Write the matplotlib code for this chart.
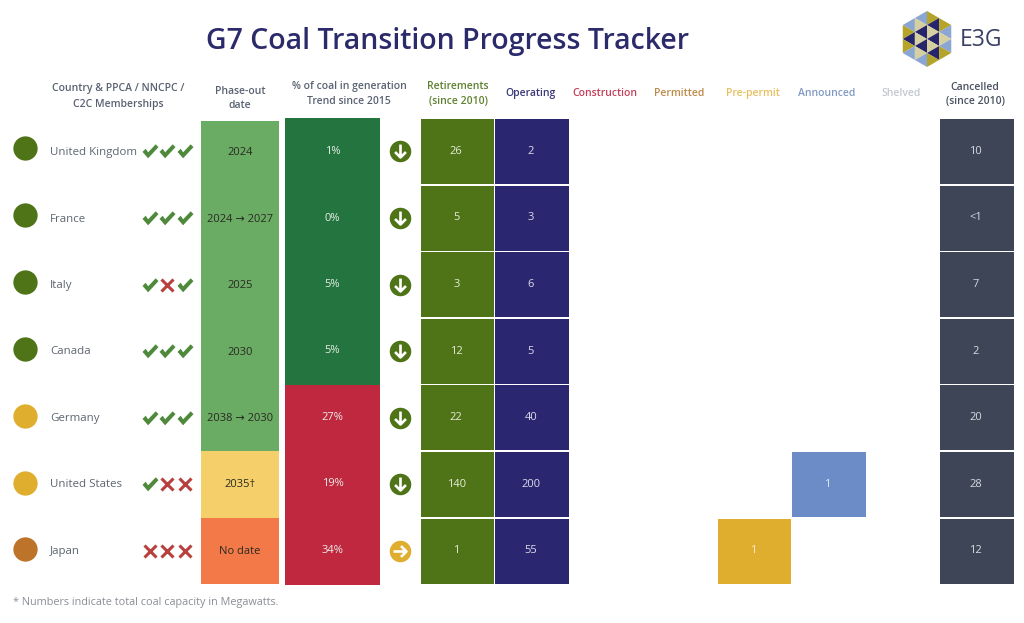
import numpy as np
import matplotlib
matplotlib.use('Agg')
import matplotlib.pyplot as plt
from matplotlib.patches import Rectangle, Polygon
from matplotlib.path import Path

plt.rcParams['font.family'] = ['Open Sans', 'DejaVu Sans']

countries = ['United Kingdom', 'France', 'Italy', 'Canada', 'Germany', 'United States', 'Japan']
status = ['g', 'g', 'g', 'g', 'y', 'y', 'o']
members = ['YYY', 'YYY', 'YNY', 'YYY', 'YYY', 'YNN', 'NNN']
phaseout = ['2024', '2024 \u2192 2027', '2025', '2030', '2038 \u2192 2030', '2035\u2020', 'No date']
phase_level = ['g', 'g', 'g', 'g', 'g', 'y', 'o']
coal_share = ['1%', '0%', '5%', '5%', '27%', '19%', '34%']
coal_level = ['g', 'g', 'g', 'g', 'r', 'r', 'r']
trend = ['down', 'down', 'down', 'down', 'down', 'down', 'right']
retirements = ['26', '5', '3', '12', '22', '140', '1']
operating = ['2', '3', '6', '5', '40', '200', '55']
prepermit = ['', '', '', '', '', '', '1']
announced = ['', '', '', '', '', '1', '']
cancelled = ['10', '<1', '7', '2', '20', '28', '12']

TOP = 119.0
ROW = 66.6
GREEN = '#4f7417'
NAVY = '#2a2670'
SLATE = '#3d4557'
GOLD = '#e0ae2e'
BLUE = '#6c8cc7'
GREY = '#5f6670'

fig = plt.figure(figsize=(10.24, 6.23), dpi=100)
ax = fig.add_axes([0, 0, 1, 1])
ax.set_xlim(0, 1024)
ax.set_ylim(623, 0)
ax.axis('off')

def row_y(i):
    return TOP + ROW * (i + 0.5)

def cell(x0, x1, i, color, txt='', tc='white', gap=1.6):
    ax.add_patch(Rectangle((x0, TOP + ROW * i), x1 - x0, ROW - gap, fc=color, ec='none'))
    if txt:
        ax.text((x0 + x1) / 2 - 1.2, row_y(i) - 1, txt, color=tc, fontsize=8, ha='center', va='center')

# title and footnote
ax.text(447, 41.5, 'G7 Coal Transition Progress Tracker', color='#2b2a6b', fontsize=20.5,
        fontweight='semibold', ha='center', va='center')
ax.text(13, 602, '* Numbers indicate total coal capacity in Megawatts.', color='#8a8f96',
        fontsize=7.85, ha='left', va='center')

# headers
headers = [(118, 'Country & PPCA / NNCPC /\nC2C Memberships', '#5a6272', 93),
           (240, 'Phase-out\ndate', '#5a6272', 95),
           (349, '% of coal in generation\nTrend since 2015', '#5a6272', 90.5),
           (458, 'Retirements\n(since 2010)', '#5f8030', 90.5),
           (531, 'Operating', '#3a3778', 92),
           (605, 'Construction', '#c4405a', 92),
           (679, 'Permitted', '#bd8a48', 92),
           (753, 'Pre-permit', '#e6c05e', 92),
           (827, 'Announced', '#8099c4', 92),
           (901, 'Shelved', '#c3c8d0', 92),
           (975, 'Cancelled\n(since 2010)', '#4a5160', 91)]
for hx, label, col, hy in headers:
    ax.text(hx, hy, label, color=col, fontsize=7.5, fontweight='semibold', ha='center',
            va='center_baseline', linespacing=1.5)

# custom markers, y points up in marker space
check = Path([(-1, -0.05), (-0.6, 0.35), (-0.3, -0.1), (0.65, 0.9), (1, 0.55), (-0.3, -0.85), (-1, -0.05)], closed=True)
down = Path([(0, 0.7), (0, -0.6), (-0.55, -0.05), (0, -0.6), (0.55, -0.05)],
            [Path.MOVETO, Path.LINETO, Path.MOVETO, Path.LINETO, Path.LINETO])
right = Path([(-0.7, 0), (0.6, 0), (0.05, 0.55), (0.6, 0), (0.05, -0.55)],
             [Path.MOVETO, Path.LINETO, Path.MOVETO, Path.LINETO, Path.LINETO])
status_col = {'g': GREEN, 'y': GOLD, 'o': '#bd732a'}
phase_col = {'g': '#6aac64', 'y': '#f5cf6a', 'o': '#f37a48'}
coal_col = {'g': '#23743f', 'r': '#c0283f'}

for i, name in enumerate(countries):
    y = row_y(i)
    ax.plot(25, y - 4.2 + 0.3 * i, 'o', ms=17.5, color=status_col[status[i]], mec='none')
    ax.text(50, y + 0.5 - 0.2 * i, name, color=GREY, fontsize=8.25, ha='left', va='center')
    for k, flag in enumerate(members[i]):
        mx = 149.5 + 17.5 * k
        if flag == 'Y':
            ax.plot(mx, y - 1, marker=check, ms=11.5, color='#4f8a3c', mec='none')
        else:
            ax.plot(mx, y - 1, marker='x', ms=9, mew=2.2, color='#b8413f')

    py0 = max(121, TOP + ROW * i - 0.8)
    ax.add_patch(Rectangle((201, py0), 78, TOP + ROW * (i + 1) - 0.8 - py0, fc=phase_col[phase_level[i]], ec='none'))
    ax.text(240, y + 0.6 - 0.2 * i, phaseout[i], color='#2a2a22', fontsize=8, ha='center', va='center')
    cy0 = TOP - 1 + ROW * i if i == 0 else TOP + ROW * i
    ax.add_patch(Rectangle((285, cy0), 95, TOP + ROW * (i + 1) - cy0, fc=coal_col[coal_level[i]], ec='none'))
    ax.text(332.5, y - 0.5 - 0.2 * i, coal_share[i], color='#e8eee8', fontsize=8, ha='center', va='center')

    tcol = GREEN if trend[i] == 'down' else GOLD
    ax.plot(400, y - 1, 'o', ms=15.5, color=tcol, mec='none')
    ax.plot(400, y - 1, marker=down if trend[i] == 'down' else right, ms=10, mfc='none', mec='white',
            mew=1.9, ls='none')

    cell(421, 494, i, GREEN, retirements[i], '#e6ebd8')
    cell(495, 569, i, NAVY, operating[i], '#dcdcea')
    if prepermit[i]:
        cell(717.5, 791, i, GOLD, prepermit[i], '#f8eccc')
    if announced[i]:
        cell(791.5, 865.5, i, BLUE, announced[i], '#e4eaf5')
    cell(940, 1014, i, SLATE, cancelled[i], '#d8dbe0')

# logo: pointy-top hexagon cut in 4 columns of sideways triangles
tri_colors = {'b': '#8aa6d2', 'y': '#b5a42a', 'n': '#26246b', 'c': '#d6cf9f'}
logo_cols = ['bynyb', 'bcncncb', 'yncncny', 'ybcby']
first_left = [True, True, False, False]
lx, ly, side = 927, 39, 14.0
w = side * np.sqrt(3) / 2
for c, cols in enumerate(logo_cols):
    x0 = lx + (c - 2) * w
    x1 = x0 + w
    n = len(cols)
    for k, col in enumerate(cols):
        cy = ly + (k - (n - 1) / 2) * side / 2
        points_left = (k % 2 == 0) == first_left[c]
        if points_left:
            pts = [(x0, cy), (x1, cy - side / 2), (x1, cy + side / 2)]
        else:
            pts = [(x1, cy), (x0, cy - side / 2), (x0, cy + side / 2)]
        ax.add_patch(Polygon(pts, fc=tri_colors[col], ec='none'))
ax.text(981, 40, 'E3G', color='#3a3f66', fontsize=16.5, ha='center', va='center')

fig.savefig('out.png', dpi=100, facecolor='white')
